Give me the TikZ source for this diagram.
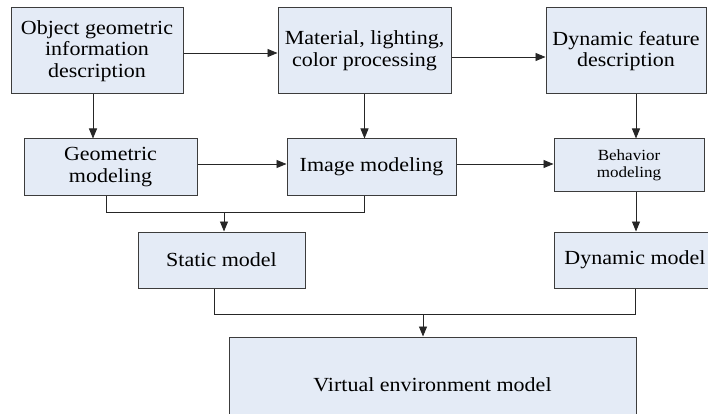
\documentclass[tikz,border=0pt]{standalone}
\usepackage{fontspec}
\setmainfont{Liberation Serif}[FakeStretch=1.1]
\usetikzlibrary{arrows.meta}
\definecolor{boxfill}{RGB}{228,235,246}
\definecolor{boxline}{RGB}{60,60,60}
\begin{document}
\begin{tikzpicture}[x=1pt,y=-1pt,
  blk/.style={draw=boxline,fill=boxfill,line width=1pt,inner sep=0pt,align=center,
    font=\fontsize{20}{21.7}\selectfont},
  smallblk/.style={blk,font=\fontsize{15.5}{16.7}\selectfont},
  conn/.style={draw=black!85,line width=0.9pt},
  arr/.style={conn,-{Triangle[length=10pt,width=8pt]}}]
\clip (0,0) rectangle (708,414);
\fill[white] (0,0) rectangle (708,414);
% row 1
\node[blk,minimum width=172pt,minimum height=86pt] (A) at (97,51) {Object geometric\\information\\description};
\node[blk,minimum width=173pt,minimum height=86pt] (B) at (364.5,51) {Material, lighting,\\color processing};
\node[blk,minimum width=160pt,minimum height=86pt] (C) at (626,51) {Dynamic feature\\description};
% row 2
\node[blk,minimum width=173pt,minimum height=56pt] (D) at (110.5,167) {Geometric\\modeling};
\node[blk,minimum width=169pt,minimum height=56pt] (E) at (371.5,167) {Image modeling};
\node[smallblk,minimum width=150pt,minimum height=52pt] (F) at (629,165) {Behavior\\modeling};
% row 3
\node[blk,minimum width=167pt,minimum height=56pt] (G) at (221.5,260) {Static model};
\node[blk,minimum width=162pt,minimum height=56pt] (H) at (635,260) {Dynamic model};
% row 4
\node[blk,minimum width=407pt,minimum height=96pt] (I) at (432.5,385) {Virtual environment model};
% horizontal arrows
\draw[arr] ([yshift=-2pt]A.east) -- ([yshift=-2pt]A.east -| B.west);
\draw[arr] ([yshift=-6pt]B.east) -- ([yshift=-6pt]B.east -| C.west);
\draw[arr] ([yshift=3pt]D.east) -- ([yshift=3pt]D.east -| E.west);
\draw[arr] ([yshift=3pt]E.east) -- ([yshift=3pt]E.east -| F.west);
% vertical arrows
\draw[arr] ([xshift=-4pt]A.south) -- ([xshift=-4pt]A.south |- D.north);
\draw[arr] (B.south) -- (B.south |- E.north);
\draw[arr] ([xshift=10pt]C.south) -- ([xshift=10pt]C.south |- F.north);
\draw[arr] ([xshift=7pt]F.south) -- ([xshift=7pt]F.south |- H.north);
% merge to static model
\coordinate (j1) at (224,212);
\draw[conn] ([xshift=-4.5pt]D.south) |- (j1);
\draw[conn] ([xshift=-7.5pt]E.south) |- (j1);
\draw[arr] (j1) -- (j1 |- G.north);
% merge to virtual environment model
\coordinate (j2) at (423,314);
\draw[conn] ([xshift=-7.5pt]G.south) |- (j2);
\draw[conn] (H.south) |- (j2);
\draw[arr] (j2) -- (j2 |- I.north);
\end{tikzpicture}
\end{document}
